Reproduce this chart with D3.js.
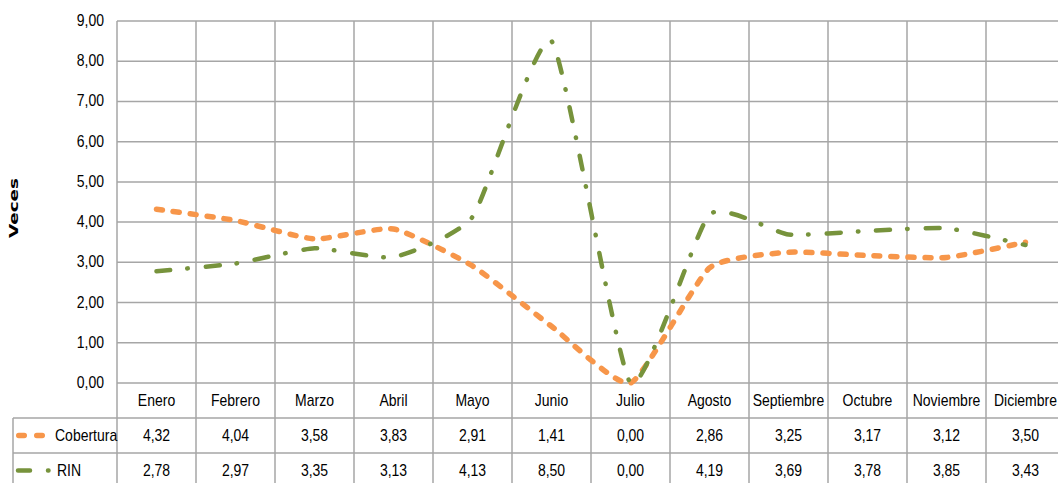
<!DOCTYPE html>
<html>
<head>
<meta charset="utf-8">
<script src="https://cdn.jsdelivr.net/npm/d3@7"></script>
<style>
  body { margin: 0; background: #fff; }
  svg text { font-family: "Liberation Sans Narrow", "Arial Narrow", sans-serif; fill: #000; font-size: 14px; }
</style>
</head>
<body>
<div id="chart"></div>
<script>
const months = ['Enero', 'Febrero', 'Marzo', 'Abril', 'Mayo', 'Junio', 'Julio', 'Agosto', 'Septiembre', 'Octubre', 'Noviembre', 'Diciembre'];
const cobertura = [4.32, 4.04, 3.58, 3.83, 2.91, 1.41, 0.00, 2.86, 3.25, 3.17, 3.12, 3.50];
const rin = [2.78, 2.97, 3.35, 3.13, 4.13, 8.50, 0.00, 4.19, 3.69, 3.78, 3.85, 3.43];
const yTicks = [0, 1, 2, 3, 4, 5, 6, 7, 8, 9];

const series = [
  { name: 'Cobertura', values: cobertura, colour: '#F7964A', dash: '6,11', width: 5.5, key: '5.5,12.5', keyEnd: 43 },
  { name: 'RIN', values: rin, colour: '#77933C', dash: '14,17,0.5,18', width: 4.5, key: '12,18,0.5,30', keyEnd: 50 }
];

const width = 1058;
const height = 483;
const plotLeft = 117;
const plotRight = 1065;
const plotTop = 21;
const plotBottom = 383;
const rowH = 35;
const tableLeft = 13;
const fmt = v => v.toFixed(2).replace('.', ',');
// text in the picture is drawn a little taller than wide
const place = (tx, ty) => 'translate(' + tx + ',' + ty + ') scale(1,1.2)';

const svg = d3.select('#chart')
  .append('svg')
  .attr('width', width)
  .attr('height', height);

const x = d3.scaleBand().domain(months).range([plotLeft, plotRight]);
const y = d3.scaleLinear().domain([0, 9]).range([plotBottom, plotTop]);
const cx = name => x(name) + x.bandwidth() / 2;
const grid = '#a6a6a6';

// horizontal grid
svg.append('g')
  .selectAll('line')
  .data(yTicks)
  .enter()
  .append('line')
  .attr('x1', plotLeft)
  .attr('x2', plotRight)
  .attr('y1', d => y(d))
  .attr('y2', d => y(d))
  .attr('stroke', grid)
  .attr('stroke-width', 1.5);

// vertical grid, running down through the table
svg.append('g')
  .selectAll('line')
  .data(months)
  .enter()
  .append('line')
  .attr('x1', d => x(d))
  .attr('x2', d => x(d))
  .attr('y1', plotTop)
  .attr('y2', height)
  .attr('stroke', grid)
  .attr('stroke-width', 1.5);

// table rows
[plotBottom + rowH, plotBottom + rowH * 2].forEach(yy => {
  svg.append('line')
    .attr('x1', tableLeft)
    .attr('x2', plotRight)
    .attr('y1', yy)
    .attr('y2', yy)
    .attr('stroke', grid)
    .attr('stroke-width', 1.5);
});
svg.append('line')
  .attr('x1', tableLeft)
  .attr('x2', tableLeft)
  .attr('y1', plotBottom + rowH)
  .attr('y2', height)
  .attr('stroke', grid)
  .attr('stroke-width', 1.5);

// y tick labels
svg.append('g')
  .selectAll('text')
  .data(yTicks)
  .enter()
  .append('text')
  .attr('transform', d => place(104, y(d) + 5))
  .attr('text-anchor', 'end')
  .text(d => fmt(d));

svg.append('text')
  .attr('transform', 'translate(18,208) rotate(-90)')
  .attr('text-anchor', 'middle')
  .attr('textLength', 60)
  .attr('lengthAdjust', 'spacingAndGlyphs')
  .style('font-family', '"DejaVu Sans", sans-serif')
  .style('font-size', '13px')
  .style('font-weight', 'bold')
  .text('Veces');

// category labels
svg.append('g')
  .selectAll('text')
  .data(months)
  .enter()
  .append('text')
  .attr('transform', d => place(cx(d), plotBottom + 23))
  .attr('text-anchor', 'middle')
  .text(d => d);

// lines
const line = d3.line()
  .x((d, i) => cx(months[i]))
  .y(d => y(d))
  .curve(d3.curveCardinal.tension(0.5));

series.forEach(s => {
  svg.append('path')
    .datum(s.values)
    .attr('d', line)
    .attr('fill', 'none')
    .attr('stroke', s.colour)
    .attr('stroke-width', s.width)
    .attr('stroke-linecap', 'round')
    .attr('stroke-dasharray', s.dash);
});

// table rows with legend keys and values
series.forEach((s, r) => {
  const rowMid = plotBottom + rowH * (r + 1) + rowH / 2;
  svg.append('line')
    .attr('x1', r === 0 ? 18.75 : 18)
    .attr('x2', s.keyEnd)
    .attr('y1', rowMid)
    .attr('y2', rowMid)
    .attr('stroke', s.colour)
    .attr('stroke-width', s.width)
    .attr('stroke-linecap', 'round')
    .attr('stroke-dasharray', s.key);
  svg.append('text')
    .attr('transform', place(r === 0 ? 55 : 57, rowMid + 5))
    .text(s.name);
  svg.append('g')
    .selectAll('text')
    .data(s.values)
    .enter()
    .append('text')
    .attr('transform', (d, i) => place(cx(months[i]), rowMid + 5))
    .attr('text-anchor', 'middle')
    .text(d => fmt(d));
});
</script>
</body>
</html>
